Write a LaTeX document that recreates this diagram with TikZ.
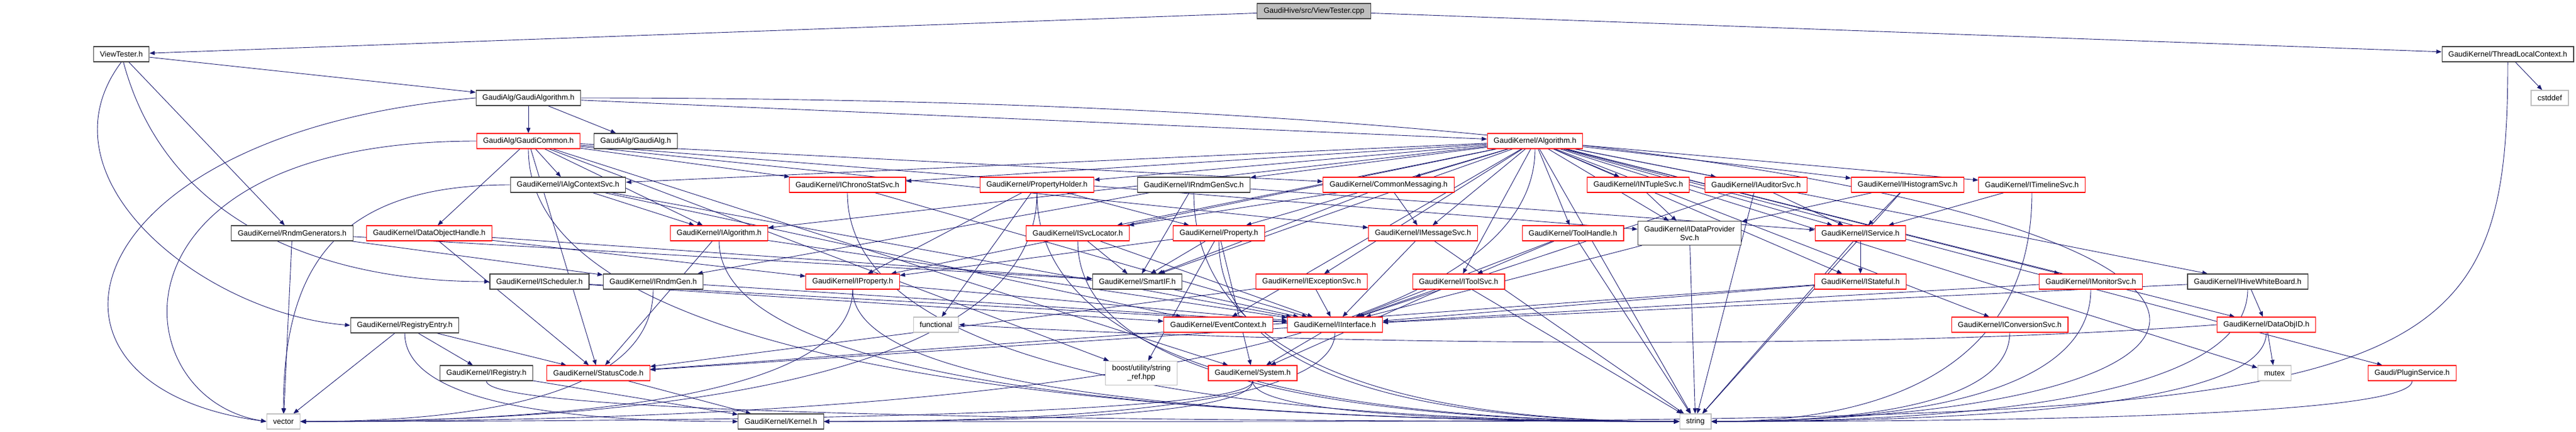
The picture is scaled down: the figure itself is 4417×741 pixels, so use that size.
\documentclass[tikz,border=0pt]{standalone}
\usepackage{fontspec}
\newfontfamily\nodefont{Liberation Sans}
\usetikzlibrary{arrows.meta}
\definecolor{edgeblue}{HTML}{191970}
\definecolor{nodered}{HTML}{FF0000}
\definecolor{nodegray}{HTML}{BFBFBF}
\definecolor{nodeblack}{HTML}{404040}
\pgfdeclarelayer{paper}
\pgfdeclarelayer{wires}
\pgfsetlayers{paper,wires,main}
\tikzset{
  hdr/.style={draw=nodeblack, line width=1.2pt, fill=white, font=\nodefont\fontsize{13}{15}\selectfont, inner xsep=11pt, inner ysep=0pt, minimum height=26pt, align=center},
  hdrred/.style={hdr, draw=nodered},
  hdrsys/.style={hdr, draw=nodegray},
  hdrroot/.style={hdr, fill=nodegray},
  dep/.style={draw=edgeblue, line width=0.9pt, -{Triangle[length=9pt,width=7pt]}},
}
\newcommand\depL[4]{\draw[dep] (#1.south) .. controls +(0,#3) and +(-#4,0) .. (#2.west);}
\newcommand\depR[4]{\draw[dep] (#1.south) .. controls +(0,#3) and +(#4,0) .. (#2.east);}
\newcommand\depS[2]{\draw[dep] (#1) -- (#2);}
\begin{document}
\begin{tikzpicture}[x=1pt,y=-1pt]
\useasboundingbox (0,0) rectangle (4417,741);
\begin{pgfonlayer}{paper}
\fill[white] (0,0) rectangle (4417,741);
\end{pgfonlayer}
% nodes
\node[hdrroot] (cpp) at (2253,19) {GaudiHive/src/ViewTester.cpp};
\node[hdr] (vth) at (208,93) {ViewTester.h};
\node[hdr] (tlc) at (4300,93) {GaudiKernel/ThreadLocalContext.h};
\node[hdr] (ga) at (906,168) {GaudiAlg/GaudiAlgorithm.h};
\node[hdrsys] (cstd) at (4372,168) {cstddef};
\node[hdrred] (gc) at (906,242) {GaudiAlg/GaudiCommon.h};
\node[hdr] (gah) at (1090,242) {GaudiAlg/GaudiAlg.h};
\node[hdrred] (alg) at (2632,242) {GaudiKernel/Algorithm.h};
\node[hdr] (acs) at (974,317) {GaudiKernel/IAlgContextSvc.h};
\node[hdrred] (css) at (1453,317) {GaudiKernel/IChronoStatSvc.h};
\node[hdrred] (ph) at (1778,317) {GaudiKernel/PropertyHolder.h};
\node[hdr] (rgs) at (2047,317) {GaudiKernel/IRndmGenSvc.h};
\node[hdrred] (cm) at (2381,317) {GaudiKernel/CommonMessaging.h};
\node[hdrred] (nts) at (2809,317) {GaudiKernel/INTupleSvc.h};
\node[hdrred] (aud) at (3011,317) {GaudiKernel/IAuditorSvc.h};
\node[hdrred] (hs) at (3271,317) {GaudiKernel/IHistogramSvc.h};
\node[hdrred] (tls) at (3484,317) {GaudiKernel/ITimelineSvc.h};
\node[hdr] (rg) at (501,400) {GaudiKernel/RndmGenerators.h};
\node[hdrred] (doh) at (736,400) {GaudiKernel/DataObjectHandle.h};
\node[hdrred] (ialg) at (1233,400) {GaudiKernel/IAlgorithm.h};
\node[hdrred] (sl) at (1848,400) {GaudiKernel/ISvcLocator.h};
\node[hdrred] (prop) at (2090,400) {GaudiKernel/Property.h};
\node[hdrred] (ms) at (2440,400) {GaudiKernel/IMessageSvc.h};
\node[hdrred] (th) at (2697,400) {GaudiKernel/ToolHandle.h};
\node[hdr, minimum height=41pt] (dps) at (2897,400) {GaudiKernel/IDataProvider\\Svc.h};
\node[hdrred] (isvc) at (3190,400) {GaudiKernel/IService.h};
\node[hdr] (isch) at (925,483) {GaudiKernel/IScheduler.h};
\node[hdr] (irg) at (1120,483) {GaudiKernel/IRndmGen.h};
\node[hdrred] (iprop) at (1462,483) {GaudiKernel/IProperty.h};
\node[hdr] (sif) at (1950,483) {GaudiKernel/SmartIF.h};
\node[hdrred] (exc) at (2249,483) {GaudiKernel/IExceptionSvc.h};
\node[hdrred] (tsvc) at (2501,483) {GaudiKernel/IToolSvc.h};
\node[hdrred] (istf) at (3190,483) {GaudiKernel/IStateful.h};
\node[hdrred] (mon) at (3585,483) {GaudiKernel/IMonitorSvc.h};
\node[hdr] (hwb) at (3854,483) {GaudiKernel/IHiveWhiteBoard.h};
\node[hdr] (re) at (694,558) {GaudiKernel/RegistryEntry.h};
\node[hdrsys] (func) at (1605,557) {functional};
\node[hdrred] (ec) at (2089,557) {GaudiKernel/EventContext.h};
\node[hdrred] (iint) at (2289,557) {GaudiKernel/IInterface.h};
\node[hdrred] (conv) at (3446,557) {GaudiKernel/IConversionSvc.h};
\node[hdrred] (doid) at (3886,557) {GaudiKernel/DataObjID.h};
\node[hdr] (ireg) at (834,640) {GaudiKernel/IRegistry.h};
\node[hdrred] (sc) at (1026,640) {GaudiKernel/StatusCode.h};
\node[hdrsys, minimum height=41pt] (bsr) at (1957,640) {boost/utility/string\\\_ref.hpp};
\node[hdrred] (sys) at (2148,640) {GaudiKernel/System.h};
\node[hdrsys] (mutex) at (3900,640) {mutex};
\node[hdrred] (plug) at (4136,640) {Gaudi/PluginService.h};
\node[hdrsys] (vec) at (486,723) {vector};
\node[hdr] (kern) at (1339,723) {GaudiKernel/Kernel.h};
\node[hdrsys] (str) at (2907,723) {string};
% edges
\begin{pgfonlayer}{wires}
\depS{cpp}{vth}
\depS{cpp}{tlc}
\depS{vth}{ga}
\depS{vth}{rg}
\draw[dep] (vth) to[out=-75,in=180] (isch.west);
\draw[dep] (vth.south) .. controls +(-150,200) and +(-250,-20) .. (re.west);
\depS{tlc}{cstd}
\draw[dep] (tlc.south) .. controls +(0,640) and +(2700,0) .. (kern.east);
% GaudiAlgorithm
\depS{ga}{gc}
\depS{ga}{gah}
\depS{ga}{alg}
\draw[dep] (ga.west) .. controls +(-700,60) and +(-450,-60) .. (vec.west);
\draw[dep] (ga.east) .. controls +(3000,0) and +(1300,-10) .. (str.east);
% GaudiCommon
\draw[dep] (gc.west) .. controls +(-650,0) and +(-250,-40) .. (vec.west);
\depL{gc}{str}{374}{987}
\depS{gc}{doh}
\depS{gc}{acs}
\depS{gc}{css}
\depS{gc}{ialg}
\depS{gc}{dps}
\depS{gc}{ms}
\depS{gc}{cm}
\depS{gc}{sys}
\depS{gc}{sc}
\depS{gc}{bsr}
% Algorithm
\depS{alg}{acs}
\depS{alg}{css}
\depS{alg}{ph}
\depS{alg}{rgs}
\depS{alg}{cm}
\depS{alg}{nts}
\depS{alg}{aud}
\depS{alg}{hs}
\depS{alg}{tls}
\depS{alg}{ialg}
\depS{alg}{sl}
\depS{alg}{prop}
\depS{alg}{ms}
\depS{alg}{th}
\depS{alg}{dps}
\depS{alg}{isvc}
\depS{alg}{iprop}
\depS{alg}{sif}
\depS{alg}{exc}
\depS{alg}{tsvc}
\depS{alg}{istf}
\depS{alg}{mon}
\depS{alg}{hwb}
\depS{alg}{ec}
\depS{alg}{conv}
\depS{alg}{doid}
\depS{alg}{mutex}
\depS{alg}{plug}
\depS{alg}{str}
\depR{alg}{vec}{374}{1058}
% rank 317
\depS{acs}{ialg}
\depS{acs}{iint}
\depS{acs}{ec}
\draw[dep] (acs.west) .. controls +(-300,0) and +(0,-250) .. (vec.north);
\depS{css}{iint}
\depL{css}{str}{314}{713}
\depS{ph}{iprop}
\depS{ph}{prop}
\depS{ph}{func}
\depL{ph}{str}{314}{551}
\depR{ph}{vec}{314}{631}
\depS{rgs}{irg}
\depS{rgs}{isvc}
\depS{rgs}{sif}
\depL{rgs}{str}{314}{416}
\depS{cm}{ms}
\depS{cm}{sl}
\depS{cm}{sif}
\depS{nts}{dps}
\depS{aud}{isvc}
\depS{aud}{iint}
\depS{aud}{str}
\depS{hs}{dps}
\depS{hs}{isvc}
\depS{hs}{str}
\depS{tls}{isvc}
\depR{tls}{str}{314}{275}
% rank 400
\depS{rg}{vec}
\depS{rg}{irg}
\depS{rg}{sif}
\depS{doh}{iprop}
\depS{doh}{sif}
\depS{doh}{sc}
\depS{ialg}{iint}
\depS{ialg}{sc}
\depL{ialg}{str}{248}{823}
\depS{sl}{sif}
\depS{sl}{iint}
\depL{sl}{str}{248}{516}
\depS{prop}{iprop}
\depS{prop}{sif}
\depS{prop}{bsr}
\depS{prop}{sys}
\depL{prop}{str}{248}{395}
\depS{ms}{iint}
\depS{ms}{str}
\depS{th}{tsvc}
\depS{th}{iint}
\depS{th}{str}
\depS{dps}{iint}
\depS{dps}{str}
\depS{isvc}{istf}
\depS{isvc}{str}
% rank 483
\depS{isch}{iint}
\depS{isch}{ec}
\depS{irg}{iint}
\depR{irg}{vec}{182}{302}
\depS{iprop}{iint}
\depL{iprop}{str}{182}{709}
\depR{iprop}{vec}{182}{473}
\depS{sif}{iint}
\depS{exc}{iint}
\depS{exc}{sc}
\depS{tsvc}{iint}
\depS{tsvc}{str}
\depS{tsvc}{sys}
\depS{istf}{iint}
\depS{istf}{sc}
\depS{mon}{iint}
\depR{mon}{str}{182}{326}
\depS{hwb}{doid}
\depS{hwb}{iint}
\depR{hwb}{str}{182}{460}
% rank 557
\depS{re}{vec}
\depS{re}{ireg}
\depS{re}{sc}
\depL{re}{kern}{122}{286}
\depS{iint}{sc}
\depS{iint}{sys}
\depR{iint}{kern}{122}{439}
\depR{conv}{str}{122}{256}
\draw[dep] (doid.west) .. controls +(-600,45) and +(600,35) .. (func.east);
\depS{doid}{mutex}
\depR{doid}{str}{122}{476}
% rank 640
\depS{ireg}{kern}
\depL{ireg}{str}{56}{1023}
\depS{sc}{kern}
\depR{sys}{kern}{56}{368}
\depL{sys}{str}{56}{366}
\depR{sys}{vec}{56}{816}
\depR{plug}{str}{56}{601}
\end{pgfonlayer}
\end{tikzpicture}
\end{document}
